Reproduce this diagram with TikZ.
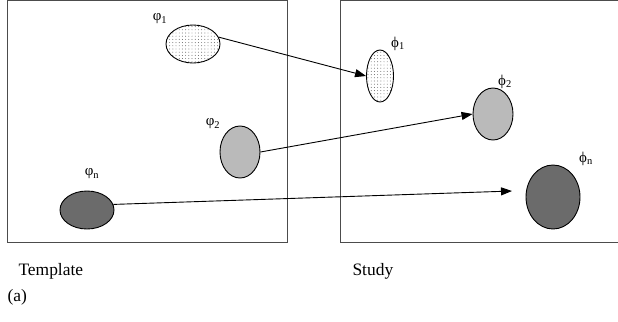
\documentclass[tikz,border=0pt]{standalone}
\usepackage{fontspec}
\setmainfont{Liberation Serif}
\usetikzlibrary{arrows.meta,shapes.geometric,patterns.meta}

\begin{document}
\begin{tikzpicture}[x=1bp,y=-1bp,>={Triangle[length=11bp,width=8bp]},
  blob/.style={ellipse,draw,line width=0.9bp,inner sep=0pt},
  lite/.style={blob,pattern={Dots[distance=3.2bp,radius=0.45bp]},pattern color=black!70},
  mid/.style={blob,fill=black!27},
  dark/.style={blob,fill=black!58},
  lbl/.style={font=\fontsize{15}{17}\selectfont},
  captxt/.style={font=\fontsize{17.5}{20}\selectfont,anchor=west},
  frame/.style={draw=black!70,line width=0.9bp}]
  \useasboundingbox (0,0) rectangle (618,321);
  \draw[frame] (7,0.5) rectangle (287,242);
  \draw[frame] (618,0.5) -- (340,0.5) -- (340,242) -- (618,242);
  % template side
  \node[lite,minimum width=54bp,minimum height=38bp] (t1) at (193,44) {};
  \node[mid,minimum width=40bp,minimum height=52bp] (t2) at (240,152) {};
  \node[dark,minimum width=54bp,minimum height=38bp] (tn) at (87,210) {};
  \node[lbl] (lt1) at (160,19) {φ\textsubscript{1}};
  \node[lbl] (lt2) at (213,124) {φ\textsubscript{2}};
  \node[lbl] (ltn) at (92,174) {φ\textsubscript{n}};
  % study side
  \node[lite,minimum width=27bp,minimum height=52bp] (s1) at (380,76) {};
  \node[mid,minimum width=40bp,minimum height=52bp] (s2) at (493,114) {};
  \node[dark,minimum width=54bp,minimum height=64bp] (sn) at (553,197) {};
  \node[lbl] (ls1) at (398,44) {ϕ\textsubscript{1}};
  \node[lbl] (ls2) at (505,82) {ϕ\textsubscript{2}};
  \node[lbl] (lsn) at (586,159) {ϕ\textsubscript{n}};
  \coordinate (snx) at (512,191);
  \draw[->,line width=0.9bp] (t1.15) -- (s1.west);
  \draw[->,line width=0.9bp] (t2.east) -- (s2.west);
  \draw[->,line width=0.9bp] (tn.12) -- (snx);
  \node[captxt] (tpl) at (15,271) {Template};
  \node[captxt] (stu) at (349,271) {Study};
  \node[captxt] (a) at (4,297) {(a)};
\end{tikzpicture}
\end{document}
